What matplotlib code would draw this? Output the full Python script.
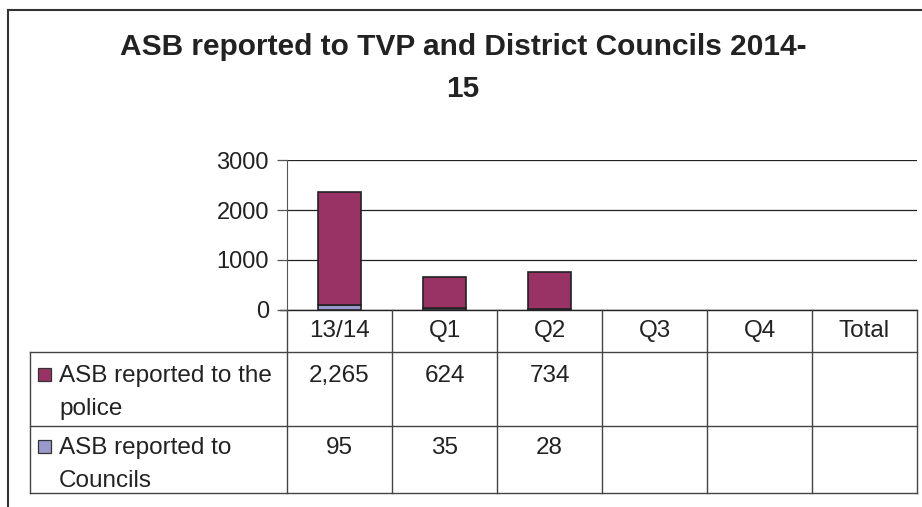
import matplotlib.pyplot as plt
from matplotlib.patches import Rectangle

plt.rcParams['font.family'] = ['Liberation Sans', 'DejaVu Sans']

categories = ["13/14", "Q1", "Q2", "Q3", "Q4", "Total"]
police = [2265, 624, 734]
councils = [95, 35, 28]
police_labels = ["2,265", "624", "734", "", "", ""]
council_labels = ["95", "35", "28", "", "", ""]
series_names = [["ASB reported to the", "police"], ["ASB reported to", "Councils"]]
yticks = [0, 1000, 2000, 3000]

W, H = 922, 507
fig = plt.figure(figsize=(W / 100, H / 100), dpi=100)

# pixel layout
x0, x1 = 287, 917
ytop, ybot = 160, 310
colw = (x1 - x0) / len(categories)
tab_left = 30
row_h = [310, 352, 426, 493]
c_police = "#993366"
c_council = "#9999CC"
fs = 17.5
tc = "#222222"

# overlay axes in pixel coords for frame and table
bg = fig.add_axes([0, 0, 1, 1])
bg.set_xlim(0, W)
bg.set_ylim(H, 0)
bg.axis("off")

bg.plot([8, 8], [10, H], color="#333333", lw=1.5)
bg.plot([8, W], [10, 10], color="#333333", lw=1.5)

bg.text(463, 47, "ASB reported to TVP and District Councils 2014-", ha="center", va="center",
        fontsize=21.5, fontweight="bold", color=tc)
bg.text(463, 89, "15", ha="center", va="center", fontsize=21.5, fontweight="bold", color=tc)

# chart axes
ax = fig.add_axes([x0 / W, 1 - ybot / H, (x1 - x0) / W, (ybot - ytop) / H])
ax.set_xlim(0, len(categories))
ax.set_ylim(0, 3000)
xs = [i + 0.5 for i in range(len(police))]
ax.bar(xs, councils, width=0.41, color=c_council, edgecolor=tc, lw=1.2, zorder=3)
ax.bar(xs, police, width=0.41, bottom=councils, color=c_police, edgecolor=tc, lw=1.2, zorder=3)
ax.set_yticks(yticks)
ax.set_yticklabels([str(t) for t in yticks], fontsize=17, color=tc)
ax.yaxis.grid(True, color=tc, lw=0.9)
ax.set_axisbelow(True)
ax.set_xticks([])
ax.tick_params(axis="y", length=7, width=0.9, color="#555555", pad=6)
for s in ["top", "right", "bottom"]:
    ax.spines[s].set_visible(False)
ax.spines["left"].set_color("#555555")
ax.patch.set_alpha(0)

# table
lc = "#444444"
bg.plot([280, x1], [ybot, ybot], color=tc, lw=1.0)
for i in range(len(categories) + 1):
    x = x0 + i * colw
    bg.plot([x, x], [ybot, row_h[3]], color=lc, lw=1.0)
bg.plot([tab_left, tab_left], [row_h[1], row_h[3]], color=lc, lw=1.0)
for yy in row_h[1:]:
    bg.plot([tab_left, x1], [yy, yy], color=lc, lw=1.0)

for i, c in enumerate(categories):
    cx = x0 + (i + 0.5) * colw
    bg.text(cx, 337, c, ha="center", va="baseline", fontsize=fs, color=tc)
    bg.text(cx, 382, police_labels[i], ha="center", va="baseline", fontsize=fs, color=tc)
    bg.text(cx, 454, council_labels[i], ha="center", va="baseline", fontsize=fs, color=tc)

for (lines, col, base) in [(series_names[0], c_police, 382), (series_names[1], c_council, 454)]:
    bg.add_patch(Rectangle((38, base - 14), 13, 13, facecolor=col, edgecolor="#333333", lw=0.9))
    for k, ln in enumerate(lines):
        bg.text(59, base + 33 * k, ln, ha="left", va="baseline", fontsize=fs, color=tc)

fig.savefig("out.png", dpi=100)
